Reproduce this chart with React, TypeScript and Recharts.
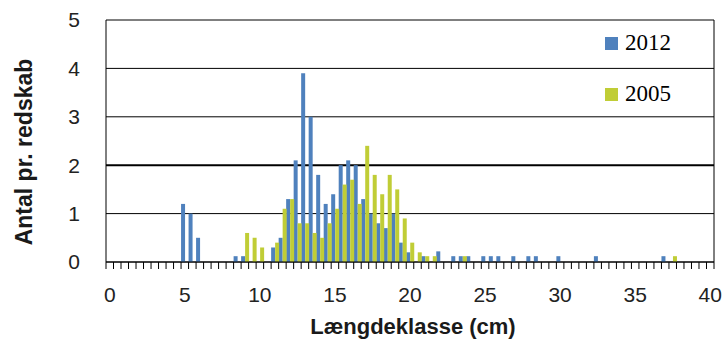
import { BarChart, Bar, XAxis, YAxis, CartesianGrid, Legend } from 'recharts';

// length classes, 0.5 cm steps
const lengthClasses = [
  0, 0.5, 1, 1.5, 2, 2.5, 3, 3.5, 4, 4.5,
  5, 5.5, 6, 6.5, 7, 7.5, 8, 8.5, 9, 9.5,
  10, 10.5, 11, 11.5, 12, 12.5, 13, 13.5, 14, 14.5,
  15, 15.5, 16, 16.5, 17, 17.5, 18, 18.5, 19, 19.5,
  20, 20.5, 21, 21.5, 22, 22.5, 23, 23.5, 24, 24.5,
  25, 25.5, 26, 26.5, 27, 27.5, 28, 28.5, 29, 29.5,
  30, 30.5, 31, 31.5, 32, 32.5, 33, 33.5, 34, 34.5,
  35, 35.5, 36, 36.5, 37, 37.5, 38, 38.5, 39, 39.5,
  40,
];

const catch2012 = [
  0, 0, 0, 0, 0, 0, 0, 0, 0, 0,
  1.2, 1.0, 0.5, 0, 0, 0, 0, 0.12, 0.12, 0,
  0, 0, 0.3, 0.5, 1.3, 2.1, 3.9, 3.0, 1.8, 1.2,
  1.4, 2.0, 2.1, 2.0, 1.3, 1.0, 0.8, 0.7, 1.0, 0.4,
  0.2, 0, 0.12, 0, 0.22, 0, 0.12, 0.12, 0.12, 0,
  0.12, 0.12, 0.12, 0, 0.12, 0, 0.12, 0.12, 0, 0,
  0.12, 0, 0, 0, 0, 0.12, 0, 0, 0, 0,
  0, 0, 0, 0, 0.12, 0, 0, 0, 0, 0,
  0,
];

const catch2005 = [
  0, 0, 0, 0, 0, 0, 0, 0, 0, 0,
  0, 0, 0, 0, 0, 0, 0, 0, 0.6, 0.5,
  0.3, 0, 0.4, 1.1, 1.3, 0.8, 0.8, 0.6, 0.5, 0.8,
  1.1, 1.6, 1.7, 1.2, 2.4, 1.8, 1.4, 1.8, 1.5, 0.9,
  0.4, 0.2, 0.12, 0.12, 0, 0, 0, 0.12, 0, 0,
  0, 0, 0, 0, 0, 0, 0, 0, 0, 0,
  0, 0, 0, 0, 0, 0, 0, 0, 0, 0,
  0, 0, 0, 0, 0, 0.12, 0, 0, 0, 0,
  0,
];

const seriesNames = ['2012', '2005'];
const xTickLabels = [0, 5, 10, 15, 20, 25, 30, 35, 40];
const yTicks = [0, 1, 2, 3, 4, 5];

const data = lengthClasses.map((len, i) => ({
  len,
  y2012: catch2012[i],
  y2005: catch2005[i],
}));

const FONT = '"Liberation Sans", Arial, sans-serif';
const SERIF = '"Liberation Serif", "Times New Roman", serif';
const PLOT = { left: 106, top: 20, right: 714, bottom: 262 };
const BAND = (PLOT.right - PLOT.left) / lengthClasses.length;
const Y_OF_2 = PLOT.bottom - (2 * (PLOT.bottom - PLOT.top)) / 5;

function LengthTick(props: any) {
  const { x, y, payload, index } = props;
  const left = x - BAND / 2;
  return (
    <g>
      <line x1={left} x2={left} y1={y} y2={y + 7} stroke="#000" />
      {index === lengthClasses.length - 1 && (
        <line x1={x + BAND / 2} x2={x + BAND / 2} y1={y} y2={y + 7} stroke="#000" />
      )}
      {xTickLabels.includes(payload.value) && (
        <text x={x} y={y + 40} textAnchor="middle" fontSize={21} fontFamily={FONT} fill="#222">
          {payload.value}
        </text>
      )}
    </g>
  );
}

function LegendBox(props: any) {
  const items = [...(props.payload || [])].sort(
    (a: any, b: any) => seriesNames.indexOf(a.value) - seriesNames.indexOf(b.value),
  );
  return (
    <div style={{ position: 'relative', width: 100, height: 80 }}>
      {items.map((p: any, i: number) => (
        <div
          key={p.value}
          style={{ position: 'absolute', left: 0, top: i * 51, height: 26, display: 'flex', alignItems: 'center' }}
        >
          <span style={{ width: 13, height: 13, background: p.color, marginRight: 7, display: 'inline-block' }} />
          <span style={{ fontSize: 23, fontFamily: SERIF, color: '#000', lineHeight: '26px' }}>{p.value}</span>
        </div>
      ))}
    </div>
  );
}

export default function App() {
  return (
    <div style={{ position: 'absolute', left: 0, top: 0, width: 725, height: 344, background: '#fff' }}>
      <BarChart
        width={725}
        height={344}
        data={data}
        margin={{ top: PLOT.top, right: 725 - PLOT.right, left: 0, bottom: 0 }}
        barCategoryGap={0}
        barGap={0}
      >
        <CartesianGrid
          verticalPoints={[PLOT.right]}
          stroke="#000"
          horizontal={(p: any) => (
            <line
              key={`h-${p.index}`}
              x1={p.x1}
              x2={p.x2}
              y1={p.y1}
              y2={p.y2}
              stroke="#000"
              strokeWidth={Math.abs(p.y1 - Y_OF_2) < 2 ? 2 : 1}
            />
          )}
        />
        <XAxis
          dataKey="len"
          type="category"
          interval={0}
          height={344 - PLOT.bottom}
          tickLine={false}
          tickSize={0}
          tickMargin={0}
          axisLine={{ stroke: '#000' }}
          tick={(p: any) => <LengthTick {...p} />}
          label={() => (
            <text x={413} y={334} textAnchor="middle" fontSize={22} fontWeight="bold" fontFamily={FONT} fill="#1a1a1a">
              Længdeklasse (cm)
            </text>
          )}
        />
        <YAxis
          domain={[0, 5]}
          ticks={yTicks}
          width={PLOT.left}
          tickLine={false}
          tickSize={0}
          tickMargin={26}
          axisLine={{ stroke: '#000' }}
          tick={{ fill: '#222', fontSize: 21, fontFamily: FONT }}
          label={() => (
            <text
              transform="translate(24,152) rotate(-90)"
              textAnchor="middle"
              dominantBaseline="central"
              fontSize={23}
              fontWeight="bold"
              fontFamily={FONT}
              fill="#1a1a1a"
            >
              Antal pr. redskab
            </text>
          )}
        />
        <Legend
          layout="vertical"
          align="center"
          verticalAlign="middle"
          itemSorter={null}
          content={(p: any) => <LegendBox {...p} />}
          wrapperStyle={{ left: 605, top: 30, width: 110 }}
        />
        <Bar dataKey="y2012" name="2012" fill="#4F81BD" isAnimationActive={false} />
        <Bar dataKey="y2005" name="2005" fill="#C0CD36" isAnimationActive={false} />
      </BarChart>
    </div>
  );
}
